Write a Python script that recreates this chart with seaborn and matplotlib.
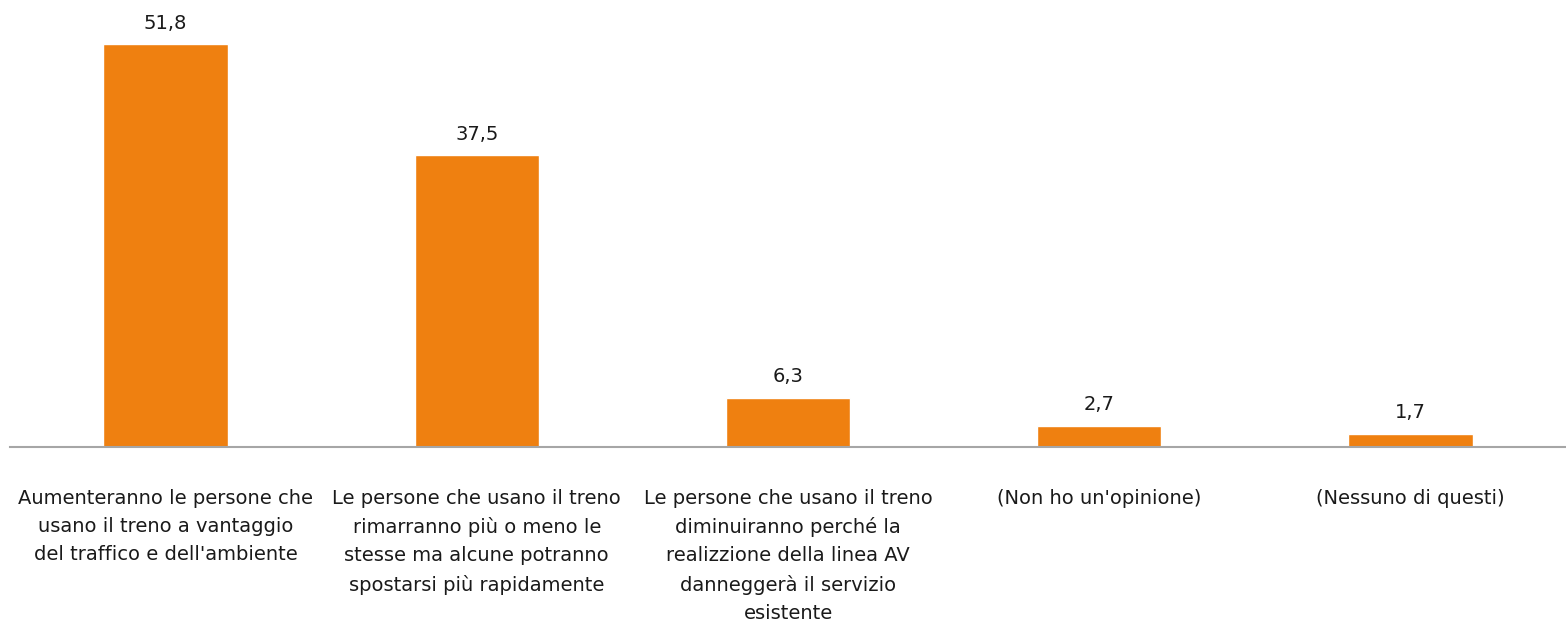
import matplotlib
matplotlib.use("Agg")
import matplotlib.pyplot as plt
import pandas as pd
import seaborn as sns

categories = [
    "Aumenteranno le persone che\nusano il treno a vantaggio\ndel traffico e dell'ambiente",
    "Le persone che usano il treno\nrimarranno più o meno le\nstesse ma alcune potranno\nspostarsi più rapidamente",
    "Le persone che usano il treno\ndiminuiranno perché la\nrealizzione della linea AV\ndanneggerà il servizio\nesistente",
    "(Non ho un'opinione)",
    "(Nessuno di questi)",
]
values = [51.8, 37.5, 6.3, 2.7, 1.7]
value_labels = ["51,8", "37,5", "6,3", "2,7", "1,7"]

bar_color = "#EF8010"

sns.set_style("white")
plt.rcParams["font.family"] = ["DejaVu Sans"]

df = pd.DataFrame({"cat": categories, "val": values})

fig = plt.figure(figsize=(15.66, 6.3), dpi=100)
ax = fig.add_axes([10 / 1566, 183 / 630, 1556 / 1566, 447 / 630])
sns.barplot(data=df, x="cat", y="val", color=bar_color, width=0.4,
            saturation=1, ax=ax)

for i, (v, lab) in enumerate(zip(values, value_labels)):
    ax.text(i, v + 1.5, lab, ha="center", va="bottom", fontsize=14,
            color="#1a1a1a")

ax.set_ylim(0, 57.5)
ax.set_xlim(-0.5, 4.5)
ax.set_xlabel("")
ax.set_ylabel("")
ax.set_yticks([])
for s in ["top", "right", "left"]:
    ax.spines[s].set_visible(False)
ax.spines["bottom"].set_color("#a6a6a6")
ax.spines["bottom"].set_linewidth(1.5)
ax.tick_params(axis="x", length=0, pad=30)
for t in ax.get_xticklabels():
    t.set_fontsize(14)
    t.set_color("#1a1a1a")
    t.set_linespacing(1.6)
    t.set_verticalalignment("top")
    t.set_horizontalalignment("center")

fig.savefig("out.png", dpi=100)
